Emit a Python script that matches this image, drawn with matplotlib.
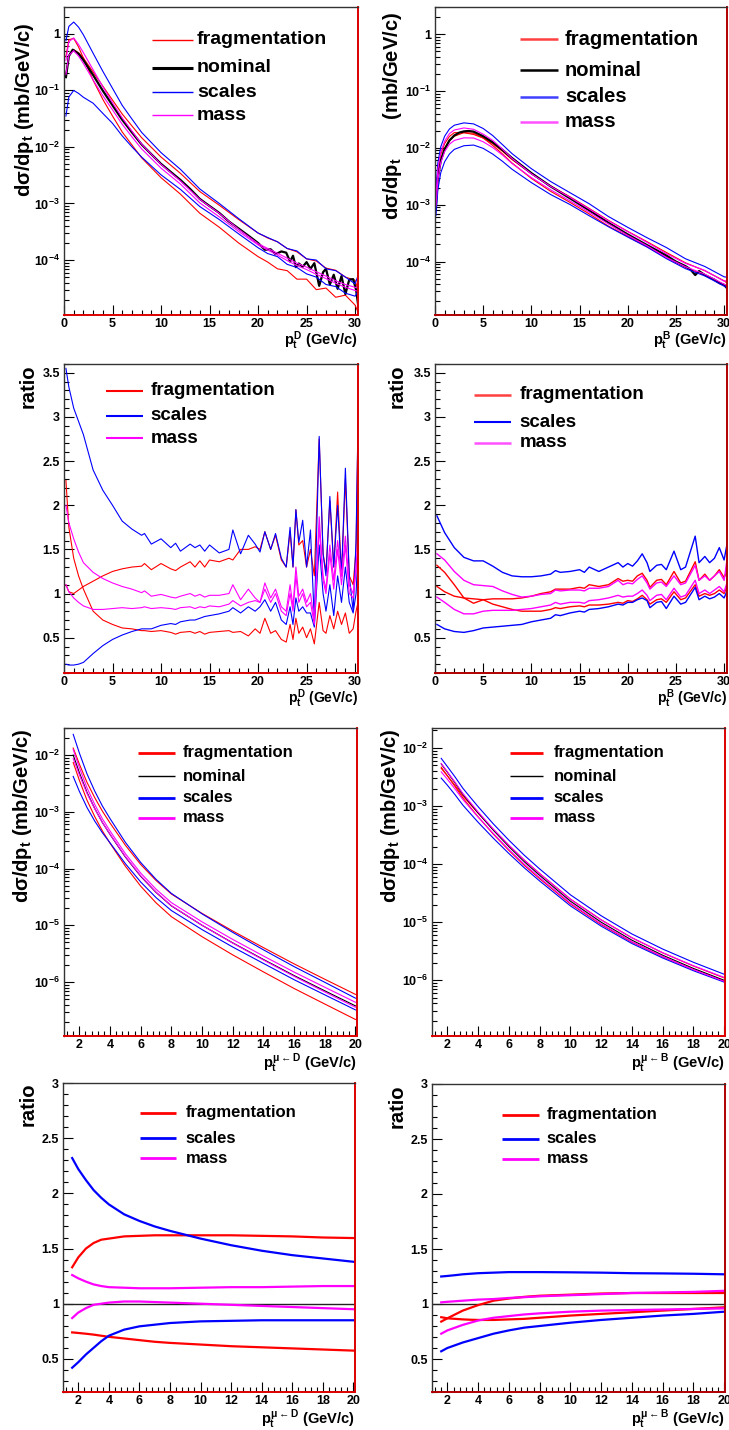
import numpy as np
import matplotlib
matplotlib.use('Agg')
import matplotlib.pyplot as plt
from matplotlib.ticker import MultipleLocator, LogLocator, FuncFormatter, NullFormatter

plt.rcParams['font.family'] = ['Liberation Sans', 'DejaVu Sans']
plt.rcParams['font.weight'] = 'bold'
plt.rcParams['mathtext.fontset'] = 'custom'
plt.rcParams['mathtext.rm'] = 'Liberation Sans:bold'
plt.rcParams['mathtext.it'] = 'Liberation Sans:bold'
plt.rcParams['mathtext.bf'] = 'Liberation Sans:bold'
plt.rcParams['mathtext.sf'] = 'Liberation Sans:bold'

# ---------------- Panel 1: D-meson pt spectrum ----------------
pt_D_nom = [0.2, 0.5, 0.9, 1.5, 2, 3, 4, 5, 6, 7, 8, 9, 10, 11, 12, 13, 14, 15, 16, 17, 18, 19, 20,
            20.7, 21.3, 21.8, 22.4, 22.9, 23.3, 23.6, 23.9, 24.2, 24.6, 25.0, 25.4, 25.8, 26.3, 26.7,
            27.0, 27.4, 27.8, 28.2, 28.6, 29.0, 29.4, 29.8, 30.1, 30.4]
D_nominal = [0.17, 0.40, 0.52, 0.44, 0.34, 0.185, 0.098, 0.054, 0.030, 0.018, 0.011, 0.0074, 0.0050,
             0.0036, 0.0026, 0.0018, 0.0012, 9.0e-4, 6.8e-4, 4.8e-4, 3.6e-4, 2.7e-4, 2.0e-4,
             1.52e-4, 1.55e-4, 1.27e-4, 1.42e-4, 1.35e-4, 9.4e-5, 1.19e-4, 7.5e-5, 8.7e-5, 7.6e-5,
             9.2e-5, 7.0e-5, 8.8e-5, 3.5e-5, 6.1e-5, 7.0e-5, 3.7e-5, 5.5e-5, 3.1e-5, 5.2e-5,
             2.5e-5, 4.5e-5, 4.6e-5, 3.0e-5, 1.25e-5]
pt_D_var = [0.2, 0.5, 1, 1.5, 2, 3, 4, 5, 6, 7, 8, 10, 12, 14, 16, 18, 20, 21, 22, 23, 24, 25, 26,
            27, 28, 29, 30, 30.3]
D_frag_1 = [0.39, 0.78, 0.82, 0.58, 0.37, 0.15, 0.069, 0.035, 0.0183, 0.0108, 0.0064, 0.00285,
            0.00146, 6.7e-4, 3.8e-4, 2.0e-4, 1.15e-4, 9.2e-5, 7.0e-5, 6.5e-5, 4.6e-5, 4.6e-5,
            3.0e-5, 3.2e-5, 2.2e-5, 2.4e-5, 1.6e-5, 1.2e-5]
D_frag_2 = [0.19, 0.41, 0.52, 0.46, 0.37, 0.21, 0.118, 0.067, 0.038, 0.0234, 0.0145, 0.0066,
            0.0034, 0.00162, 9.3e-4, 5.2e-4, 3.0e-4, 2.45e-4, 2.1e-4, 1.6e-4, 1.4e-4, 1.05e-4,
            9.6e-5, 7.2e-5, 6.6e-5, 5.0e-5, 4.4e-5, 3.0e-5]
D_scales_up = [0.75, 1.34, 1.6, 1.3, 0.95, 0.45, 0.216, 0.108, 0.054, 0.031, 0.018, 0.0079, 0.004,
               0.0018, 1.0e-3, 5.4e-4, 3.0e-4, 2.5e-4, 2.1e-4, 1.6e-4, 1.45e-4, 1.05e-4, 1.0e-4,
               7.0e-5, 6.5e-5, 5.0e-5, 3.8e-5, 5.3e-5]
D_scales_dn = [0.035, 0.076, 0.099, 0.088, 0.075, 0.059, 0.039, 0.026, 0.0156, 0.010, 0.0066,
               0.0032, 0.00177, 8.8e-4, 5.2e-4, 2.9e-4, 1.65e-4, 1.3e-4, 1.15e-4, 8.4e-5, 7.4e-5,
               5.7e-5, 5.0e-5, 3.7e-5, 3.4e-5, 2.6e-5, 2.3e-5, 2.8e-5]
D_mass_up = [0.34, 0.72, 0.84, 0.64, 0.46, 0.23, 0.115, 0.06, 0.0324, 0.0189, 0.0112, 0.0049,
             0.0025, 0.00118, 6.7e-4, 3.5e-4, 1.95e-4, 1.6e-4, 1.32e-4, 1.08e-4, 8.8e-5, 7.5e-5,
             6.2e-5, 5.2e-5, 4.3e-5, 3.7e-5, 3.3e-5, 3.2e-5]
D_mass_dn = [0.19, 0.41, 0.5, 0.4, 0.296, 0.152, 0.08, 0.045, 0.025, 0.015, 0.0092, 0.0042,
             0.0022, 0.00102, 5.8e-4, 3.2e-4, 1.85e-4, 1.5e-4, 1.22e-4, 9.8e-5, 8.0e-5, 6.8e-5,
             5.6e-5, 4.7e-5, 3.9e-5, 3.3e-5, 2.9e-5, 2.8e-5]

# ---------------- Panel 2: B-meson pt spectrum ----------------
pt_B_nom = [0.1, 0.3, 0.6, 1, 1.5, 2, 2.5, 3, 3.5, 4, 5, 6, 7, 8, 10, 12, 14, 16, 18, 20, 22, 24,
            25, 26, 26.5, 27, 27.4, 28, 29, 29.5, 30, 30.3]
B_nominal = [1.0e-3, 3.0e-3, 6.0e-3, 9.5e-3, 0.0135, 0.0165, 0.0185, 0.0195, 0.0198, 0.0193,
             0.016, 0.0125, 0.0092, 0.0066, 0.0036, 0.0021, 0.0013, 8.0e-4, 4.8e-4, 3.0e-4,
             1.95e-4, 1.28e-4, 1.0e-4, 8.3e-5, 7.3e-5, 5.8e-5, 6.8e-5, 5.8e-5, 4.8e-5, 4.2e-5,
             3.9e-5, 3.4e-5]
pt_B_var = [0.1, 0.3, 0.6, 1, 1.5, 2, 3, 4, 5, 6, 7, 8, 10, 12, 14, 16, 18, 20, 22, 24, 26, 28,
            30, 30.3]
B_scales_up = [1.9e-3, 5.5e-3, 0.0105, 0.016, 0.0215, 0.025, 0.0275, 0.0264, 0.0219, 0.0164,
               0.0114, 0.0079, 0.0043, 0.00256, 0.00163, 1.04e-3, 6.2e-4, 4.0e-4, 2.63e-4,
               1.77e-4, 1.12e-4, 8.2e-5, 5.4e-5, 5.3e-5]
B_scales_dn = [6.5e-4, 1.86e-3, 3.66e-3, 5.7e-3, 7.8e-3, 9.4e-3, 0.0109, 0.0112, 9.8e-3, 7.75e-3,
               5.8e-3, 4.2e-3, 2.45e-3, 1.51e-3, 1.01e-3, 6.4e-4, 4.1e-4, 2.7e-4, 1.8e-4, 1.13e-4,
               7.5e-5, 5.6e-5, 3.7e-5, 3.5e-5]
B_frag_1 = [1.33e-3, 3.96e-3, 7.7e-3, 0.0119, 0.0159, 0.0185, 0.0185, 0.0172, 0.0149, 0.0118,
            0.0087, 0.0062, 0.0035, 0.00214, 0.00138, 8.6e-4, 5.3e-4, 3.4e-4, 2.24e-4, 1.45e-4,
            9.5e-5, 6.9e-5, 4.6e-5, 4.2e-5]
B_frag_2 = [1.08e-3, 3.2e-3, 6.2e-3, 9.7e-3, 0.0135, 0.016, 0.0185, 0.0181, 0.0149, 0.011, 0.0078,
            0.0054, 0.0029, 0.00172, 0.0011, 6.9e-4, 4.2e-4, 2.76e-4, 1.83e-4, 1.18e-4, 7.9e-5,
            5.8e-5, 3.9e-5, 3.7e-5]
B_mass_up = [1.45e-3, 4.3e-3, 8.4e-3, 0.0131, 0.0178, 0.0206, 0.0224, 0.0212, 0.0174, 0.0135,
             0.0095, 0.0065, 0.0035, 0.0021, 0.00135, 8.4e-4, 5.2e-4, 3.36e-4, 2.18e-4, 1.38e-4,
             9.3e-5, 7.0e-5, 4.5e-5, 4.7e-5]
B_mass_dn = [9.6e-4, 2.8e-3, 5.5e-3, 8.6e-3, 0.0116, 0.0135, 0.015, 0.0149, 0.0128, 0.0101,
             0.0075, 0.0053, 0.003, 0.00183, 0.00117, 7.4e-4, 4.6e-4, 2.9e-4, 1.9e-4, 1.19e-4,
             8.1e-5, 6.0e-5, 4.0e-5, 3.8e-5]

# ---------------- Panel 3: D-meson ratios ----------------
pt_DR = [0.2, 0.5, 1, 1.5, 2, 3, 4, 5, 6, 7, 8, 8.3, 9, 10, 11, 11.5, 12, 13, 13.5, 14, 14.5, 15,
         16, 17, 17.4, 18.2, 19, 19.7, 20.2, 20.7, 21.3, 21.8, 22.4, 22.9, 23.3, 23.6, 23.9, 24.2,
         24.6, 25.0, 25.4, 25.8, 26.3, 26.7, 27.0, 27.4, 27.8, 28.2, 28.6, 29.0, 29.4, 29.8, 30.1,
         30.4]
DR_scales_up = [3.55, 3.34, 3.1, 2.95, 2.8, 2.4, 2.17, 2.0, 1.82, 1.73, 1.66, 1.68, 1.56, 1.62,
                1.52, 1.57, 1.48, 1.56, 1.52, 1.55, 1.48, 1.55, 1.46, 1.5, 1.72, 1.45, 1.66, 1.56,
                1.47, 1.7, 1.5, 1.68, 1.4, 1.3, 1.75, 1.3, 1.95, 1.58, 1.83, 1.3, 1.72, 0.7, 2.78,
                1.45, 1.2, 2.1, 1.3, 2.0, 1.2, 2.42, 1.2, 0.8, 1.6, 3.6]
DR_scales_dn = [0.2, 0.19, 0.19, 0.2, 0.22, 0.32, 0.41, 0.48, 0.53, 0.57, 0.6, 0.6, 0.6, 0.64,
                0.66, 0.65, 0.68, 0.7, 0.7, 0.72, 0.74, 0.75, 0.77, 0.8, 0.84, 0.78, 0.85, 0.8,
                0.85, 0.93, 0.8, 0.9, 0.7, 0.65, 0.85, 0.65, 0.95, 0.8, 0.85, 0.78, 0.78, 0.62,
                1.55, 1.0, 0.8, 1.1, 0.75, 1.2, 0.9, 1.3, 0.9, 0.78, 1.0, 1.7]
DR_frag_1 = [2.28, 1.75, 1.4, 1.2, 1.05, 0.8, 0.7, 0.65, 0.61, 0.6, 0.58, 0.58, 0.57, 0.58, 0.56,
             0.54, 0.56, 0.57, 0.55, 0.57, 0.54, 0.56, 0.57, 0.58, 0.56, 0.57, 0.52, 0.6, 0.55,
             0.72, 0.55, 0.58, 0.48, 0.45, 0.65, 0.48, 0.72, 0.55, 0.62, 0.5, 0.6, 0.43, 0.9,
             0.58, 0.55, 0.75, 0.6, 0.8, 0.65, 0.78, 0.55, 0.6, 0.8, 0.95]
DR_frag_2 = [1.1, 1.02, 1.0, 1.04, 1.08, 1.14, 1.2, 1.25, 1.28, 1.3, 1.31, 1.34, 1.27, 1.34, 1.28,
             1.26, 1.3, 1.36, 1.3, 1.37, 1.3, 1.38, 1.36, 1.4, 1.38, 1.5, 1.5, 1.53, 1.5, 1.7,
             1.5, 1.66, 1.38, 1.3, 1.7, 1.3, 1.95, 1.55, 1.6, 1.3, 1.5, 1.2, 2.75, 1.45, 1.25,
             2.05, 1.3, 2.15, 1.2, 2.3, 1.2, 1.1, 1.5, 3.6]
DR_mass_up = [2.0, 1.8, 1.62, 1.47, 1.35, 1.24, 1.17, 1.12, 1.08, 1.05, 1.01, 1.03, 0.97, 0.99,
              0.96, 0.95, 0.97, 1.0, 0.97, 0.99, 0.96, 0.98, 0.98, 1.0, 1.1, 0.93, 1.05, 0.95,
              0.9, 1.12, 0.95, 1.05, 0.85, 0.8, 1.1, 0.85, 1.3, 0.97, 1.05, 0.9, 1.0, 0.7, 1.87,
              1.2, 1.05, 1.55, 1.15, 1.6, 1.2, 1.65, 1.1, 1.0, 1.3, 1.8]
DR_mass_dn = [1.1, 1.02, 0.95, 0.9, 0.86, 0.82, 0.82, 0.83, 0.84, 0.83, 0.84, 0.85, 0.83, 0.84,
              0.83, 0.82, 0.84, 0.85, 0.83, 0.85, 0.84, 0.86, 0.85, 0.88, 0.92, 0.86, 0.9, 0.92,
              0.9, 1.05, 0.9, 1.0, 0.8, 0.75, 1.0, 0.8, 1.2, 0.9, 1.0, 0.85, 0.9, 0.65, 1.75,
              1.15, 1.0, 1.45, 1.05, 1.5, 1.1, 1.55, 1.0, 0.95, 1.25, 1.7]

# ---------------- Panel 4: B-meson ratios ----------------
pt_BR = [0.2, 1, 2, 3, 4, 5, 6, 7, 8, 9, 10, 11, 12, 12.5, 13, 14, 15, 15.5, 16, 17, 18, 19, 19.5,
         20, 20.5, 21, 21.5, 22, 22.3, 23, 23.5, 24, 24.8, 25.5, 26, 27, 27.4, 28, 28.5, 29, 29.5,
         30, 30.3]
BR_scales_up = [1.88, 1.69, 1.52, 1.41, 1.37, 1.37, 1.31, 1.24, 1.2, 1.19, 1.19, 1.2, 1.22, 1.26,
                1.24, 1.25, 1.27, 1.24, 1.3, 1.25, 1.3, 1.35, 1.3, 1.34, 1.31, 1.37, 1.45, 1.35,
                1.25, 1.32, 1.33, 1.27, 1.48, 1.27, 1.3, 1.65, 1.35, 1.42, 1.35, 1.4, 1.52, 1.38,
                1.56]
BR_scales_dn = [0.65, 0.6, 0.57, 0.56, 0.58, 0.61, 0.62, 0.63, 0.64, 0.65, 0.68, 0.7, 0.72, 0.76,
                0.75, 0.78, 0.8, 0.79, 0.82, 0.83, 0.85, 0.88, 0.87, 0.9, 0.9, 0.93, 0.95, 0.92,
                0.84, 0.9, 0.91, 0.83, 0.97, 0.88, 0.9, 1.07, 0.93, 0.97, 0.94, 0.96, 1.0, 0.95,
                1.03]
BR_frag_1 = [1.32, 1.24, 1.1, 0.95, 0.89, 0.93, 0.94, 0.94, 0.94, 0.95, 0.97, 1.0, 1.02, 1.05,
             1.05, 1.05, 1.07, 1.06, 1.1, 1.08, 1.1, 1.17, 1.14, 1.15, 1.14, 1.2, 1.23, 1.15, 1.07,
             1.15, 1.16, 1.1, 1.25, 1.12, 1.14, 1.36, 1.15, 1.22, 1.15, 1.2, 1.27, 1.18, 1.25]
BR_frag_2 = [1.08, 1.02, 0.97, 0.95, 0.94, 0.93, 0.88, 0.85, 0.82, 0.8, 0.8, 0.8, 0.82, 0.84,
             0.83, 0.85, 0.86, 0.85, 0.87, 0.87, 0.88, 0.9, 0.89, 0.92, 0.91, 0.94, 0.98, 0.93,
             0.88, 0.93, 0.94, 0.9, 1.02, 0.93, 0.95, 1.1, 0.97, 1.0, 0.98, 1.0, 1.04, 1.0, 1.08]
BR_mass_up = [1.45, 1.38, 1.25, 1.15, 1.1, 1.09, 1.08, 1.03, 0.99, 0.96, 0.97, 0.99, 1.0, 1.04,
              1.03, 1.04, 1.04, 1.03, 1.06, 1.06, 1.08, 1.15, 1.1, 1.12, 1.11, 1.16, 1.2, 1.12,
              1.05, 1.12, 1.13, 1.08, 1.2, 1.1, 1.12, 1.32, 1.15, 1.2, 1.15, 1.2, 1.25, 1.15, 1.38]
BR_mass_dn = [0.96, 0.9, 0.82, 0.77, 0.77, 0.8, 0.81, 0.81, 0.81, 0.82, 0.83, 0.85, 0.87, 0.9,
              0.88, 0.9, 0.9, 0.89, 0.92, 0.93, 0.95, 0.98, 0.96, 0.97, 0.97, 1.0, 1.04, 0.98,
              0.92, 0.98, 0.99, 0.93, 1.06, 0.96, 0.98, 1.15, 1.0, 1.04, 1.0, 1.04, 1.08, 1.02,
              1.12]

# ---------------- Panels 5-8: muons from D and B ----------------
pt_mu = [1.6, 2, 2.5, 3, 3.5, 4, 5, 6, 7, 8, 10, 12, 14, 16, 18, 20]
muD_nominal = [1.0e-2, 4.9e-3, 2.2e-3, 1.15e-3, 6.5e-4, 4.0e-4, 1.6e-4, 7.3e-5, 3.8e-5, 2.2e-5,
               1.0e-5, 4.9e-6, 2.5e-6, 1.3e-6, 7.0e-7, 3.8e-7]
muD_frag_up = [1.33e-2, 6.96e-3, 3.3e-3, 1.78e-3, 1.03e-3, 6.36e-4, 2.58e-4, 1.18e-4, 6.16e-5,
               3.56e-5, 1.62e-5, 7.94e-6, 4.04e-6, 2.09e-6, 1.12e-6, 6.06e-7]
muD_frag_dn = [7.4e-3, 3.6e-3, 1.6e-3, 8.28e-4, 4.62e-4, 2.8e-4, 1.1e-4, 4.89e-5, 2.49e-5, 1.42e-5,
               6.3e-6, 3.01e-6, 1.51e-6, 7.7e-7, 4.1e-7, 2.19e-7]
muD_scales_up = [2.32e-2, 1.09e-2, 4.66e-3, 2.33e-3, 1.27e-3, 7.6e-4, 2.9e-4, 1.28e-4, 6.46e-5,
                 3.65e-5, 1.59e-5, 7.5e-6, 3.7e-6, 1.87e-6, 9.9e-7, 5.2e-7]
muD_scales_dn = [4.2e-3, 2.3e-3, 1.19e-3, 6.9e-4, 4.29e-4, 2.84e-4, 1.22e-4, 5.8e-5, 3.08e-5,
                 1.82e-5, 8.4e-6, 4.14e-6, 2.13e-6, 1.1e-6, 5.95e-7, 3.23e-7]
muD_mass_up = [1.26e-2, 6.03e-3, 2.64e-3, 1.35e-3, 7.54e-4, 4.6e-4, 1.83e-4, 8.32e-5, 4.33e-5,
               2.51e-5, 1.15e-5, 5.64e-6, 2.88e-6, 1.5e-6, 8.1e-7, 4.4e-7]
muD_mass_dn = [8.7e-3, 4.5e-3, 2.11e-3, 1.14e-3, 6.5e-4, 4.04e-4, 1.63e-4, 7.45e-5, 3.86e-5,
               2.22e-5, 1.0e-5, 4.85e-6, 2.45e-6, 1.26e-6, 6.7e-7, 3.6e-7]

muB_nominal = [5.3e-3, 3.8e-3, 2.5e-3, 1.6e-3, 1.1e-3, 7.6e-4, 3.8e-4, 2.0e-4, 1.1e-4, 6.4e-5,
               2.3e-5, 1.0e-5, 4.9e-6, 2.7e-6, 1.6e-6, 1.0e-6]
muB_scales_up = [6.6e-3, 4.77e-3, 3.16e-3, 2.03e-3, 1.4e-3, 9.73e-4, 4.88e-4, 2.58e-4, 1.42e-4,
                 8.26e-5, 2.96e-5, 1.29e-5, 6.27e-6, 3.45e-6, 2.04e-6, 1.27e-6]
muB_scales_dn = [3.02e-3, 2.28e-3, 1.56e-3, 1.04e-3, 7.37e-4, 5.24e-4, 2.77e-4, 1.52e-4, 8.64e-5,
                 5.12e-5, 1.91e-5, 8.55e-6, 4.29e-6, 2.42e-6, 1.46e-6, 9.3e-7]
muB_frag_1 = [4.45e-3, 3.31e-3, 2.26e-3, 1.5e-3, 1.06e-3, 7.52e-4, 3.91e-4, 2.1e-4, 1.17e-4,
              6.88e-5, 2.5e-5, 1.1e-5, 5.39e-6, 2.97e-6, 1.76e-6, 1.1e-6]
muB_frag_2 = [4.66e-3, 3.31e-3, 2.16e-3, 1.38e-3, 9.43e-4, 6.5e-4, 3.25e-4, 1.72e-4, 9.5e-5,
              5.6e-5, 2.06e-5, 9.1e-6, 4.53e-6, 2.54e-6, 1.53e-6, 9.7e-7]
muB_mass_up = [5.38e-3, 3.88e-3, 2.56e-3, 1.65e-3, 1.14e-3, 7.9e-4, 3.97e-4, 2.11e-4, 1.17e-4,
               6.85e-5, 2.48e-5, 1.09e-5, 5.39e-6, 2.98e-6, 1.78e-6, 1.12e-6]
muB_mass_dn = [3.87e-3, 2.89e-3, 1.96e-3, 1.3e-3, 9.13e-4, 6.46e-4, 3.33e-4, 1.78e-4, 9.96e-5,
               5.86e-5, 2.14e-5, 9.4e-6, 4.63e-6, 2.57e-6, 1.53e-6, 9.6e-7]

muDR_frag_up = [1.33, 1.42, 1.5, 1.55, 1.58, 1.59, 1.61, 1.615, 1.62, 1.62, 1.62, 1.62, 1.615, 1.61,
                1.6, 1.595]
muDR_frag_dn = [0.74, 0.735, 0.728, 0.72, 0.71, 0.70, 0.685, 0.67, 0.655, 0.645, 0.63, 0.615, 0.605,
                0.595, 0.585, 0.575]
muDR_scales_up = [2.32, 2.22, 2.12, 2.03, 1.96, 1.9, 1.81, 1.75, 1.7, 1.66, 1.59, 1.53, 1.48, 1.44,
                  1.41, 1.38]
muDR_scales_dn = [0.42, 0.47, 0.54, 0.6, 0.66, 0.71, 0.765, 0.795, 0.81, 0.825, 0.84, 0.845, 0.85,
                  0.85, 0.85, 0.85]
muDR_mass_up = [1.26, 1.23, 1.2, 1.175, 1.16, 1.15, 1.145, 1.14, 1.14, 1.14, 1.145, 1.15, 1.15,
                1.155, 1.16, 1.16]
muDR_mass_dn = [0.87, 0.92, 0.96, 0.99, 1.0, 1.01, 1.02, 1.02, 1.015, 1.01, 1.0, 0.99, 0.98, 0.97,
                0.96, 0.95]

muBR_scales_up = [1.25, 1.255, 1.262, 1.27, 1.275, 1.28, 1.285, 1.29, 1.29, 1.29, 1.288, 1.285,
                  1.28, 1.278, 1.275, 1.27]
muBR_scales_dn = [0.57, 0.6, 0.625, 0.65, 0.67, 0.69, 0.73, 0.76, 0.785, 0.8, 0.83, 0.855, 0.875,
                  0.895, 0.91, 0.93]
muBR_frag_1 = [0.84, 0.87, 0.905, 0.94, 0.965, 0.99, 1.03, 1.05, 1.065, 1.075, 1.085, 1.095, 1.1,
               1.1, 1.1, 1.1]
muBR_frag_2 = [0.88, 0.87, 0.865, 0.86, 0.857, 0.855, 0.855, 0.86, 0.865, 0.875, 0.895, 0.91, 0.925,
               0.94, 0.955, 0.97]
muBR_mass_up = [1.015, 1.02, 1.025, 1.03, 1.035, 1.04, 1.045, 1.055, 1.062, 1.07, 1.08, 1.09, 1.1,
                1.105, 1.11, 1.12]
muBR_mass_dn = [0.73, 0.76, 0.785, 0.81, 0.83, 0.85, 0.875, 0.89, 0.905, 0.915, 0.93, 0.94, 0.945,
                0.95, 0.955, 0.96]

RED, BLUE, MAG, BLK = '#ff0000', '#0000ff', '#ff00ff', '#000000'

W, H = 729, 1430
fig = plt.figure(figsize=(W / 100, H / 100), dpi=100)
fig.patch.set_facecolor('white')


def add_ax(x0, y0, x1, y1):
    return fig.add_axes([x0 / W, 1 - y1 / H, (x1 - x0) / W, (y1 - y0) / H])


def logfmt(v, pos):
    e = int(round(np.log10(v)))
    if e == 0:
        return '1'
    return r'$10^{%d}$' % e


def style(ax, log=False, xmaj=5, xmin=1, ymaj=0.5, ymin=0.1, rcol='#dd0000'):
    for s in ['top', 'left']:
        ax.spines[s].set_color('#333333')
        ax.spines[s].set_linewidth(1.0)
    for s in ['right', 'bottom']:
        ax.spines[s].set_color(rcol)
        ax.spines[s].set_linewidth(1.4)
    ax.tick_params(which='both', direction='in', top=False, right=False,
                   labelsize=9, color='black', width=0.8)
    ax.tick_params(which='major', length=7)
    ax.tick_params(which='minor', length=3.5)
    ax.tick_params(axis='y', pad=3)
    ax.tick_params(axis='x', pad=2.5)
    ax.xaxis.set_major_locator(MultipleLocator(xmaj))
    ax.xaxis.set_minor_locator(MultipleLocator(xmin))
    if log:
        ax.set_yscale('log')
        ax.yaxis.set_major_locator(LogLocator(base=10, numticks=20))
        ax.yaxis.set_minor_locator(LogLocator(base=10, subs=np.arange(2, 10) * 1.0, numticks=20))
        ax.yaxis.set_major_formatter(FuncFormatter(logfmt))
        ax.yaxis.set_minor_formatter(NullFormatter())
    else:
        ax.yaxis.set_major_locator(MultipleLocator(ymaj))
        ax.yaxis.set_minor_locator(MultipleLocator(ymin))
        ax.yaxis.set_major_formatter(FuncFormatter(lambda v, p: '%g' % v))


def legend(ax, entries, x0, x1, xt, ys, fs):
    for (label, color, lw), y in zip(entries, ys):
        ax.plot([x0, x1], [y, y], color=color, lw=lw, transform=ax.transAxes,
                solid_capstyle='butt', clip_on=False)
        ax.text(xt, y, label, transform=ax.transAxes, ha='left', va='center',
                fontsize=fs, fontweight='bold')


def ylab(ax, text, x, ytop, fs=14.5):
    ax.text(x, ytop, text, transform=ax.transAxes, rotation=90, ha='center', va='top',
            fontsize=fs, fontweight='bold')


def xlab(ax, text, y, fs=10.5):
    ax.text(1.0, y, text, transform=ax.transAxes, ha='right', va='center',
            fontsize=fs, fontweight='bold')


THIN = 0.8

# ---- Panel 1
ax1 = add_ax(64, 7, 358, 315)
style(ax1, log=True)
for arr in (D_frag_1, D_frag_2):
    ax1.plot(pt_D_var, arr, color=RED, lw=THIN)
ax1.plot(pt_D_nom, D_nominal, color=BLK, lw=1.6)
for arr in (D_scales_up, D_scales_dn):
    ax1.plot(pt_D_var, arr, color=BLUE, lw=THIN)
for arr in (D_mass_up, D_mass_dn):
    ax1.plot(pt_D_var, arr, color=MAG, lw=THIN)
ax1.set_xlim(0, 30.3)
ax1.set_ylim(1.07e-5, 2.95)
legend(ax1, [('fragmentation', RED, 1.0), ('nominal', BLK, 2.2), ('scales', BLUE, 1.0),
             ('mass', MAG, 1.0)], 0.30, 0.44, 0.452, [0.893, 0.802, 0.724, 0.649], 14)
ylab(ax1, r'd$\sigma$/dp$_{t}$ (mb/GeV/c)', -0.133, 0.95)
xlab(ax1, r'$p_{t}^{D}$ (GeV/c)', -0.082)

# ---- Panel 2
ax2 = add_ax(435, 7, 727, 315)
style(ax2, log=True, rcol='#b00000')
for arr in (B_frag_1, B_frag_2):
    ax2.plot(pt_B_var, arr, color=RED, lw=THIN)
ax2.plot(pt_B_nom, B_nominal, color=BLK, lw=1.6)
for arr in (B_scales_up, B_scales_dn):
    ax2.plot(pt_B_var, arr, color=BLUE, lw=THIN)
for arr in (B_mass_up, B_mass_dn):
    ax2.plot(pt_B_var, arr, color=MAG, lw=THIN)
ax2.set_xlim(0, 30.3)
ax2.set_ylim(1.15e-5, 3.0)
legend(ax2, [('fragmentation', '#ff4040', 1.8), ('nominal', BLK, 1.8), ('scales', '#4040ff', 1.8),
             ('mass', '#ff50ff', 1.8)], 0.29, 0.42, 0.445, [0.896, 0.795, 0.708, 0.627], 14.5)
ylab(ax2, r'd$\sigma$/dp$_{t}$' + ' ' * 7 + '(mb/GeV/c)', -0.147, 0.985)
xlab(ax2, r'$p_{t}^{B}$ (GeV/c)', -0.082)

# ---- Panel 3
ax3 = add_ax(64, 364, 358, 673)
style(ax3)
for arr in (DR_frag_1, DR_frag_2):
    ax3.plot(pt_DR, arr, color=RED, lw=THIN)
for arr in (DR_scales_up, DR_scales_dn):
    ax3.plot(pt_DR, arr, color=BLUE, lw=THIN)
for arr in (DR_mass_up, DR_mass_dn):
    ax3.plot(pt_DR, arr, color=MAG, lw=THIN)
ax3.set_xlim(0, 30.3)
ax3.set_ylim(0.1, 3.6)
legend(ax3, [('fragmentation', RED, 1.5), ('scales', BLUE, 1.5), ('mass', MAG, 1.5)],
       0.143, 0.269, 0.295, [0.913, 0.832, 0.76], 13.5)
ylab(ax3, 'ratio', -0.122, 1.0)
xlab(ax3, r'$p_{t}^{D}$ (GeV/c)', -0.084, fs=10)

# ---- Panel 4
ax4 = add_ax(435, 364, 727, 673)
style(ax4, rcol='#b00000')
for arr in (BR_frag_1, BR_frag_2):
    ax4.plot(pt_BR, arr, color=RED, lw=1.0)
for arr in (BR_scales_up, BR_scales_dn):
    ax4.plot(pt_BR, arr, color=BLUE, lw=1.0)
for arr in (BR_mass_up, BR_mass_dn):
    ax4.plot(pt_BR, arr, color=MAG, lw=1.0)
ax4.set_xlim(0, 30.3)
ax4.set_ylim(0.1, 3.6)
legend(ax4, [('fragmentation', '#ff4040', 1.8), ('scales', BLUE, 1.5), ('mass', '#ff50ff', 1.8)],
       0.134, 0.26, 0.29, [0.9, 0.812, 0.745], 13.5)
ylab(ax4, 'ratio', -0.13, 1.0)
xlab(ax4, r'$p_{t}^{B}$ (GeV/c)', -0.084, fs=10)

# ---- Panel 5
ax5 = add_ax(64, 728, 357, 1036)
style(ax5, log=True, xmaj=2, xmin=0.4)
for arr in (muD_frag_up, muD_frag_dn):
    ax5.plot(pt_mu, arr, color=RED, lw=THIN)
ax5.plot(pt_mu, muD_nominal, color=BLK, lw=THIN)
for arr in (muD_scales_up, muD_scales_dn):
    ax5.plot(pt_mu, arr, color=BLUE, lw=THIN)
for arr in (muD_mass_up, muD_mass_dn):
    ax5.plot(pt_mu, arr, color=MAG, lw=THIN)
ax5.set_xlim(1, 20.1)
ax5.set_ylim(1.12e-7, 0.030)
legend(ax5, [('fragmentation', RED, 2.0), ('nominal', BLK, 1.0), ('scales', BLUE, 2.0),
             ('mass', MAG, 2.0)], 0.253, 0.379, 0.406, [0.919, 0.844, 0.773, 0.708], 12)
ylab(ax5, r'd$\sigma$/dp$_{t}$ (mb/GeV/c)', -0.14, 1.0)
xlab(ax5, r'$p_{t}^{\mu\leftarrow D}$ (GeV/c)', -0.088)

# ---- Panel 6
ax6 = add_ax(432, 728, 725, 1036)
style(ax6, log=True, xmaj=2, xmin=0.4)
for arr in (muB_frag_1, muB_frag_2):
    ax6.plot(pt_mu, arr, color=RED, lw=THIN)
ax6.plot(pt_mu, muB_nominal, color=BLK, lw=THIN)
for arr in (muB_scales_up, muB_scales_dn):
    ax6.plot(pt_mu, arr, color=BLUE, lw=THIN)
for arr in (muB_mass_up, muB_mass_dn):
    ax6.plot(pt_mu, arr, color=MAG, lw=THIN)
ax6.set_xlim(1, 20.05)
ax6.set_ylim(1.1e-7, 0.022)
legend(ax6, [('fragmentation', RED, 2.0), ('nominal', BLK, 1.0), ('scales', BLUE, 2.0),
             ('mass', MAG, 2.0)], 0.266, 0.379, 0.416, [0.919, 0.844, 0.773, 0.708], 12)
ylab(ax6, r'd$\sigma$/dp$_{t}$ (mb/GeV/c)', -0.14, 1.0)
xlab(ax6, r'$p_{t}^{\mu\leftarrow B}$ (GeV/c)', -0.088)

# ---- Panel 7
ax7 = add_ax(63, 1083, 355, 1392)
style(ax7, xmaj=2, xmin=0.4)
ax7.axhline(1.0, color='#222222', lw=1.0)
for arr in (muDR_frag_up, muDR_frag_dn):
    ax7.plot(pt_mu, arr, color=RED, lw=1.6)
for arr in (muDR_scales_up, muDR_scales_dn):
    ax7.plot(pt_mu, arr, color=BLUE, lw=1.6)
for arr in (muDR_mass_up, muDR_mass_dn):
    ax7.plot(pt_mu, arr, color=MAG, lw=1.6)
ax7.set_xlim(1, 20.1)
ax7.set_ylim(0.2, 3.0)
legend(ax7, [('fragmentation', RED, 2.0), ('scales', BLUE, 2.0), ('mass', MAG, 2.0)],
       0.264, 0.387, 0.421, [0.903, 0.822, 0.757], 12)
ylab(ax7, 'ratio', -0.119, 1.0)
xlab(ax7, r'$p_{t}^{\mu\leftarrow D}$ (GeV/c)', -0.088)

# ---- Panel 8
ax8 = add_ax(432, 1084, 725, 1392)
style(ax8, xmaj=2, xmin=0.4, rcol='#b00000')
ax8.axhline(1.0, color='#222222', lw=1.0)
for arr in (muBR_frag_1, muBR_frag_2):
    ax8.plot(pt_mu, arr, color=RED, lw=1.6)
for arr in (muBR_scales_up, muBR_scales_dn):
    ax8.plot(pt_mu, arr, color=BLUE, lw=1.6)
for arr in (muBR_mass_up, muBR_mass_dn):
    ax8.plot(pt_mu, arr, color=MAG, lw=1.6)
ax8.set_xlim(1, 20.05)
ax8.set_ylim(0.2, 3.0)
legend(ax8, [('fragmentation', RED, 2.0), ('scales', BLUE, 2.0), ('mass', MAG, 2.0)],
       0.239, 0.365, 0.392, [0.9, 0.822, 0.757], 12)
ylab(ax8, 'ratio', -0.12, 1.0)
xlab(ax8, r'$p_{t}^{\mu\leftarrow B}$ (GeV/c)', -0.088)

fig.savefig('out.png', dpi=100, facecolor='white')
